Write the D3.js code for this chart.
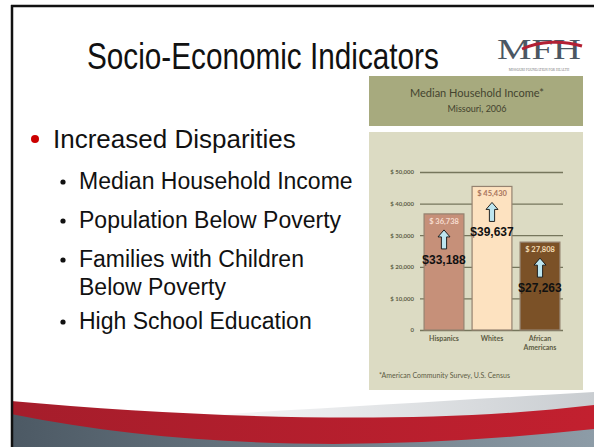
<!DOCTYPE html>
<html>
<head>
<meta charset="utf-8">
<script src="https://cdn.jsdelivr.net/npm/d3@7"></script>
<style>
  body { margin: 0; background: #fff; }
  svg { display: block; }
</style>
</head>
<body>
<div id="chart"></div>
<script>
// Data
const groups = ["Hispanics", "Whites", "African Americans"]
const income2006 = [36738, 45430, 27808]
const incomeEarlier = [33188, 39637, 27263]
const yTicks = [0, 10000, 20000, 30000, 40000, 50000]
const barColors = ["#c69079", "#fde2c0", "#7b5127"]
const barLabelColors = ["#f6dccf", "#a8745c", "#f3dcb4"]

const bullets = ["Increased Disparities"]
const subBullets = [
  ["Median Household Income"],
  ["Population Below Poverty"],
  ["Families with Children", "Below Poverty"],
  ["High School Education"]
]

const width = 594
const height = 447

const svg = d3.select("#chart")
  .append("svg")
  .attr("width", width)
  .attr("height", height)

const defs = svg.append("defs")

const grayGrad = defs.append("linearGradient").attr("id", "grayGrad")
grayGrad.append("stop").attr("offset", "0%").attr("stop-color", "#4c5964")
grayGrad.append("stop").attr("offset", "100%").attr("stop-color", "#8d9ca7")

const redGrad = defs.append("linearGradient").attr("id", "redGrad")
redGrad.append("stop").attr("offset", "0%").attr("stop-color", "#a51d2b")
redGrad.append("stop").attr("offset", "100%").attr("stop-color", "#c2202f")

const sheenGrad = defs.append("linearGradient").attr("id", "sheenGrad")
sheenGrad.append("stop").attr("offset", "0%").attr("stop-color", "#ffffff")
sheenGrad.append("stop").attr("offset", "100%").attr("stop-color", "#c9cdd1")

// bottom swoosh of the slide template
svg.append("path")
  .attr("d", "M150,418 C300,410 460,400 594,392 L594,406 C420,426 200,418 150,418 Z")
  .attr("fill", "url(#sheenGrad)")
svg.append("path")
  .attr("d", "M11,401 C200,418 420,426 594,405 L594,447 L11,447 Z")
  .attr("fill", "url(#redGrad)")
svg.append("path")
  .attr("d", "M11,414 C200,452 400,450 594,429 L594,447 L11,447 Z")
  .attr("fill", "url(#grayGrad)")

// slide frame
svg.append("line")
  .attr("x1", 11).attr("x2", width).attr("y1", 6).attr("y2", 6)
  .attr("stroke", "#111").attr("stroke-width", 2.5)
svg.append("line")
  .attr("x1", 12).attr("x2", 12).attr("y1", 5).attr("y2", height)
  .attr("stroke", "#111").attr("stroke-width", 2.5)

// Title, squeezed to the narrow width of the original
const title = svg.append("text")
  .attr("x", 0)
  .attr("y", 0)
  .attr("font-family", "'Liberation Sans Narrow', 'Arial Narrow', 'Liberation Sans', sans-serif")
  .attr("font-size", 36)
  .attr("fill", "#111")
  .text("Socio-Economic Indicators")
const titleW = title.node().getComputedTextLength()
title.attr("transform", `translate(87,69) scale(${352 / titleW},1)`)

// Logo
const logo = svg.append("g")
logo.append("text")
  .attr("x", 497)
  .attr("y", 59)
  .attr("font-family", "'Liberation Serif', 'DejaVu Serif', serif")
  .attr("font-size", 30)
  .attr("fill", "#4b5763")
  .attr("textLength", 84)
  .attr("lengthAdjust", "spacingAndGlyphs")
  .text("MFH")
logo.append("path")
  .attr("d", "M522,49 C540,41 562,40 582,46")
  .attr("fill", "none")
  .attr("stroke", "#b32034")
  .attr("stroke-width", 3)
logo.append("text")
  .attr("x", 539)
  .attr("y", 71)
  .attr("text-anchor", "middle")
  .attr("font-family", "'Liberation Serif', serif")
  .attr("font-size", 3.4)
  .attr("fill", "#777")
  .text("MISSOURI FOUNDATION FOR HEALTH")

// Bullets
svg.append("circle")
  .attr("cx", 35).attr("cy", 139).attr("r", 4)
  .attr("fill", "#cc0000")
svg.append("text")
  .attr("x", 53)
  .attr("y", 148)
  .attr("font-family", "'Liberation Sans', Arial, sans-serif")
  .attr("font-size", 26)
  .attr("fill", "#111")
  .text(bullets[0])

const subBaselines = [189, 228, 267, 329]
subBullets.forEach((lines, i) => {
  svg.append("circle")
    .attr("cx", 63).attr("cy", subBaselines[i] - 7).attr("r", 2.6)
    .attr("fill", "#111")
  lines.forEach((line, j) => {
    svg.append("text")
      .attr("x", 79)
      .attr("y", subBaselines[i] + j * 28)
      .attr("font-family", "'Liberation Sans', Arial, sans-serif")
      .attr("font-size", 23)
      .attr("fill", "#111")
      .text(line)
  })
})

// Chart panel
const chartFont = "Lato, 'Open Sans', sans-serif"
svg.append("rect")
  .attr("x", 369).attr("y", 76).attr("width", 214).attr("height", 50)
  .attr("fill", "#a7aa7e")
svg.append("rect")
  .attr("x", 369).attr("y", 132).attr("width", 214).attr("height", 258)
  .attr("fill", "#dcdbc3")

svg.append("text")
  .attr("x", 477).attr("y", 97)
  .attr("text-anchor", "middle")
  .attr("font-family", chartFont)
  .attr("font-size", 11)
  .attr("fill", "#44442f")
  .text("Median Household Income*")
svg.append("text")
  .attr("x", 477).attr("y", 112)
  .attr("text-anchor", "middle")
  .attr("font-family", chartFont)
  .attr("font-size", 9)
  .attr("fill", "#44442f")
  .text("Missouri, 2006")

// Scales
const xScale = d3.scaleBand()
  .domain(groups)
  .range([420, 564])
  .paddingInner(0.17)
  .paddingOuter(0.085)

const yScale = d3.scaleLinear()
  .domain([0, 50000])
  .range([330, 172])

// Axis with gridlines
const yAxis = d3.axisLeft(yScale)
  .tickValues(yTicks)
  .tickSizeInner(-143)
  .tickSizeOuter(0)
  .tickPadding(6)
  .tickFormat(d => d === 0 ? "0" : "$ " + d3.format(",")(d))

const yAxisGroup = svg.append("g")
  .attr("transform", "translate(420,0)")
  .call(yAxis)
yAxisGroup.select(".domain").remove()
yAxisGroup.selectAll(".tick line")
  .attr("stroke", "#76765c")
  .attr("stroke-width", 1.3)
yAxisGroup.selectAll(".tick text")
  .attr("font-family", chartFont)
  .attr("font-size", 6)
  .attr("font-weight", "bold")
  .attr("fill", "#5f5f48")

// Bars
svg.selectAll(".bar")
  .data(groups)
  .join("rect")
  .attr("class", "bar")
  .attr("x", d => xScale(d))
  .attr("y", (d, i) => yScale(income2006[i]))
  .attr("width", xScale.bandwidth())
  .attr("height", (d, i) => yScale(0) - yScale(income2006[i]))
  .attr("fill", (d, i) => barColors[i])
  .attr("stroke", "#948270")
  .attr("stroke-width", 1.2)

// 2006 labels inside bars
svg.selectAll(".barLabel")
  .data(groups)
  .join("text")
  .attr("class", "barLabel")
  .attr("x", d => xScale(d) + xScale.bandwidth() / 2)
  .attr("y", (d, i) => yScale(income2006[i]) + 10)
  .attr("text-anchor", "middle")
  .attr("font-family", chartFont)
  .attr("font-size", 7.5)
  .attr("font-weight", "bold")
  .attr("fill", (d, i) => barLabelColors[i])
  .text((d, i) => "$ " + d3.format(",")(income2006[i]))

// Up arrows
const arrowPath = (cx, tip, base) => {
  const hw = 6, sw = 2.6, hh = 7
  return `M${cx},${tip} L${cx + hw},${tip + hh} L${cx + sw},${tip + hh} L${cx + sw},${base}` +
    ` L${cx - sw},${base} L${cx - sw},${tip + hh} L${cx - hw},${tip + hh} Z`
}

svg.selectAll(".arrow")
  .data(groups)
  .join("path")
  .attr("class", "arrow")
  .attr("d", (d, i) => {
    const tip = yScale(income2006[i]) + 16
    return arrowPath(xScale(d) + xScale.bandwidth() / 2, tip, tip + 19)
  })
  .attr("fill", "#bde5ef")
  .attr("stroke", "#111")
  .attr("stroke-width", 0.9)

// Earlier values
svg.selectAll(".earlier")
  .data(groups)
  .join("text")
  .attr("class", "earlier")
  .attr("x", d => xScale(d) + xScale.bandwidth() / 2)
  .attr("y", (d, i) => yScale(income2006[i]) + 16 + 19 + 15)
  .attr("text-anchor", "middle")
  .attr("font-family", "'Liberation Sans', Arial, sans-serif")
  .attr("font-size", 12)
  .attr("font-weight", "bold")
  .attr("fill", "#111")
  .text((d, i) => "$" + d3.format(",")(incomeEarlier[i]))

// Category labels
svg.selectAll(".cat")
  .data(groups)
  .join("text")
  .attr("class", "cat")
  .attr("x", d => xScale(d) + xScale.bandwidth() / 2)
  .attr("y", 341)
  .attr("text-anchor", "middle")
  .attr("font-family", chartFont)
  .attr("font-size", 7)
  .attr("font-weight", "bold")
  .attr("fill", "#5c5c44")
  .each(function (d) {
    const words = d === "African Americans" ? ["African", "Americans"] : [d]
    d3.select(this).selectAll("tspan")
      .data(words)
      .join("tspan")
      .attr("x", xScale(d) + xScale.bandwidth() / 2)
      .attr("dy", (w, j) => j === 0 ? 0 : 8.5)
      .text(w => w)
  })

// Footnote
svg.append("text")
  .attr("x", 379).attr("y", 378)
  .attr("font-family", chartFont)
  .attr("font-size", 7)
  .attr("fill", "#5c5c44")
  .text("*American Community Survey, U.S. Census")
</script>
</body>
</html>
